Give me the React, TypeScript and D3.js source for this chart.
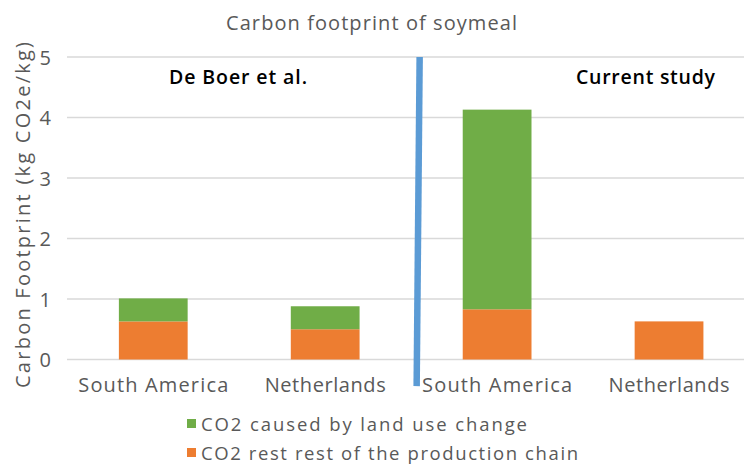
import React from "react";
import * as d3 from "d3";

const categories = ["South America", "Netherlands", "South America", "Netherlands"];
const restChain = [0.63, 0.5, 0.83, 0.63];
const landUse = [0.38, 0.38, 3.3, 0];
const yTicks = [0, 1, 2, 3, 4, 5];
const seriesNames = ["CO2 caused by land use change", "CO2 rest rest of the production chain"];
const groupLabels = ["De Boer et al.", "Current study"];

const W = 744;
const H = 464;
const GREEN = "#70ad47";
const ORANGE = "#ed7d31";
const BLUE = "#5b9bd5";
const GRAY = "#595959";
const FONT = "'Open Sans', 'DejaVu Sans', sans-serif";

const catWidth: Record<string, number> = { "South America": 150, Netherlands: 121 };
const legendWidth = [326, 377];
const groupWidth = [138, 139];

export default function App() {
  const idx = categories.map((_, i) => i);
  const x = d3.scaleBand<number>().domain(idx).range([67.3, 755]).padding(0);
  const y = d3.scaleLinear().domain([0, 5]).range([359.5, 57]);
  const bw = x.bandwidth() * 0.4;
  const boundary = x(2) as number;

  return (
    <svg width={W} height={H} style={{ position: "absolute", left: 0, top: 0, background: "#fff" }}>
      <rect x={0} y={0} width={W} height={H} fill="#fff" />
      <text x={371.5} y={30} textAnchor="middle" fontFamily={FONT} fontSize={20} fill={GRAY} textLength={291}>
        Carbon footprint of soymeal
      </text>
      {yTicks.map((t) => (
        <g key={t}>
          <line x1={67} x2={W} y1={y(t)} y2={y(t)} stroke="#d9d9d9" strokeWidth={1.5} />
          <text x={51} y={y(t) + 7.5} textAnchor="end" fontFamily={FONT} fontSize={20} fill={GRAY}>
            {t}
          </text>
        </g>
      ))}
      <text
        transform={`translate(30,${215}) rotate(-90)`}
        textAnchor="middle"
        fontFamily={FONT}
        fontSize={20}
        fill={GRAY}
        textLength={346}
      >
        Carbon Footprint (kg CO2e/kg)
      </text>
      {idx.map((i) => {
        const cx = (x(i) as number) + x.bandwidth() / 2;
        return (
          <g key={i}>
            <rect x={cx - bw / 2} y={y(restChain[i])} width={bw} height={y(0) - y(restChain[i])} fill={ORANGE} />
            {landUse[i] > 0 && (
              <rect
                x={cx - bw / 2}
                y={y(restChain[i] + landUse[i])}
                width={bw}
                height={y(restChain[i]) - y(restChain[i] + landUse[i])}
                fill={GREEN}
              />
            )}
            <text
              x={cx}
              y={392}
              textAnchor="middle"
              fontFamily={FONT}
              fontSize={20}
              fill={GRAY}
              textLength={catWidth[categories[i]]}
            >
              {categories[i]}
            </text>
          </g>
        );
      })}
      <line
        x1={boundary + 8.5}
        y1={y(5)}
        x2={boundary + 5.5}
        y2={y(-0.44)}
        stroke={BLUE}
        strokeWidth={6.5}
      />
      <text x={169} y={84} fontFamily={FONT} fontSize={19.5} fontWeight={600} fill="#000" textLength={groupWidth[0]}>
        {groupLabels[0]}
      </text>
      <text x={576} y={84} fontFamily={FONT} fontSize={19.5} fontWeight={600} fill="#000" textLength={groupWidth[1]}>
        {groupLabels[1]}
      </text>
      {seriesNames.map((s, i) => (
        <g key={s}>
          <rect x={187} y={419 + i * 29} width={9} height={9} fill={i === 0 ? GREEN : ORANGE} />
          <text x={201} y={431 + i * 29} fontFamily={FONT} fontSize={18.5} fill={GRAY} textLength={legendWidth[i]}>
            {s}
          </text>
        </g>
      ))}
    </svg>
  );
}
